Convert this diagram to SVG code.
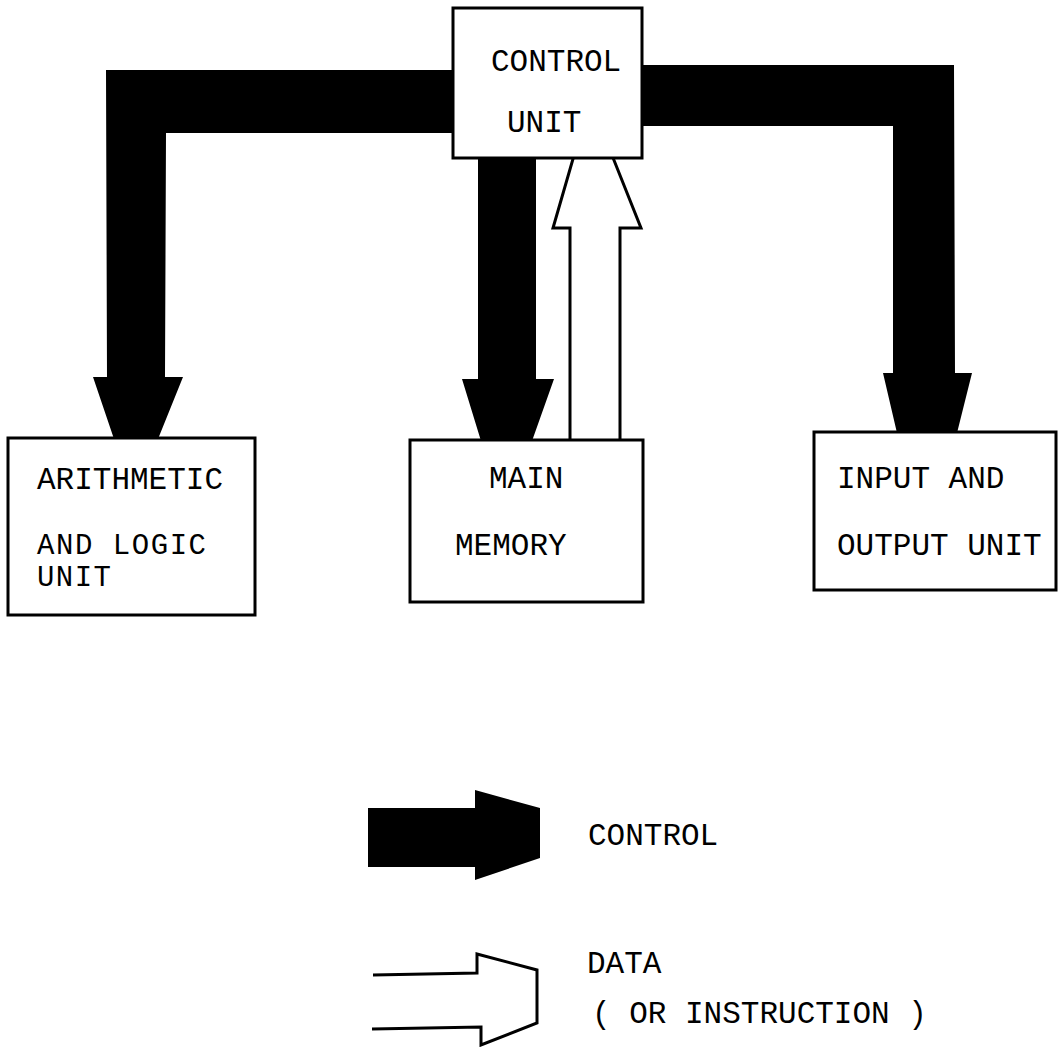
<svg xmlns="http://www.w3.org/2000/svg" width="1058" height="1047" viewBox="0 0 1058 1047">
  <style>
    .box { fill: #fff; stroke: #000; stroke-width: 3; }
    .ctl { fill: #000; stroke: none; }
    .dat { fill: #fff; stroke: #000; stroke-width: 3; stroke-linejoin: miter; }
    .lbl { font-family: "Liberation Mono", "DejaVu Sans Mono", monospace; font-size: 31px; fill: #000; }
    .sm { font-size: 29px; }
  </style>
  <rect width="1058" height="1047" fill="#fff"/>

  <g id="connectors">
    <!-- control path: control unit to arithmetic/logic unit -->
    <polygon class="ctl" points="106,70 455,70 455,133 166,133 165,377 183,377 158,439 114,439 93,377 107,377"/>
    <!-- control path: control unit to input/output unit -->
    <polygon class="ctl" points="640,65 954,65 955,373 972,373 957,433 897,433 883,373 893,373 893,126 640,126"/>
    <!-- control path: control unit to main memory -->
    <polygon class="ctl" points="478,156 536,156 536,379 554,379 532,441 481,441 462,379 478,379"/>
    <!-- data path: main memory up to control unit -->
    <path class="dat" d="M570,440 V228 H553 L590,100 L641,228 H620 V440"/>
  </g>

  <g id="control-unit">
    <rect class="box" x="453" y="8" width="189" height="150"/>
    <text class="lbl" x="491" y="71">CONTROL</text>
    <text class="lbl" x="507" y="132">UNIT</text>
  </g>

  <g id="alu">
    <rect class="box" x="8" y="438" width="247" height="177"/>
    <text class="lbl" x="37" y="489">ARITHMETIC</text>
    <text class="lbl sm" x="37" y="554" textLength="169" lengthAdjust="spacing">AND LOGIC</text>
    <text class="lbl sm" x="37" y="586" textLength="74" lengthAdjust="spacing">UNIT</text>
  </g>

  <g id="main-memory">
    <rect class="box" x="410" y="440" width="233" height="162"/>
    <text class="lbl" x="489" y="488">MAIN</text>
    <text class="lbl" x="455" y="555">MEMORY</text>
  </g>

  <g id="io-unit">
    <rect class="box" x="814" y="432" width="242" height="158"/>
    <text class="lbl" x="837" y="488">INPUT AND</text>
    <text class="lbl" x="837" y="555">OUTPUT UNIT</text>
  </g>

  <g id="legend-control">
    <polygon class="ctl" points="368,808 475,808 475,790 540,808 540,858 475,880 475,867 368,867"/>
    <text class="lbl" x="588" y="845">CONTROL</text>
  </g>

  <g id="legend-data">
    <path class="dat" fill="none" d="M373,975 L477,973 V954 L537,970 V1023 L481,1045 V1027 L372,1029"/>
    <text class="lbl" x="587" y="973">DATA</text>
    <text class="lbl" x="592" y="1023">( OR INSTRUCTION )</text>
  </g>
</svg>
